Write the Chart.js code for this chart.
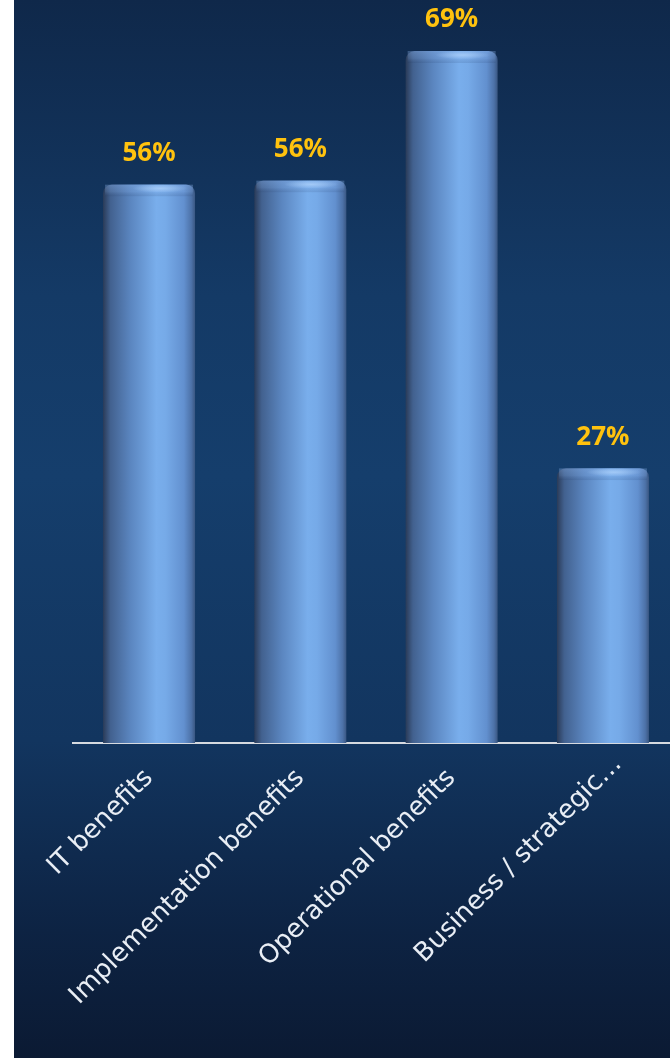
<!DOCTYPE html>
<html>
<head>
<meta charset="utf-8">
<script src="https://cdn.jsdelivr.net/npm/chart.js@4.4.1/dist/chart.umd.min.js"></script>
<style>
  html, body { margin: 0; padding: 0; background: #ffffff; overflow: hidden; }
  #wrap { position: relative; width: 670px; height: 1058px; overflow: hidden; }
  #bg {
    position: absolute; left: 14px; top: 0; width: 656px; height: 1058px;
    background: linear-gradient(to bottom, #0f284a 0%, #143a66 28%, #153e6c 45%, #12355f 70%, #0d2343 88%, #0b1a33 100%);
  }
  #chart { position: absolute; left: 0; top: 0; }
</style>
</head>
<body>
<div id="wrap">
  <div id="bg"></div>
  <canvas id="chart" width="690" height="1058"></canvas>
</div>
<script>
// categories and values (percent)
var categories = ["IT benefits", "Implementation benefits", "Operational benefits", "Business / strategic\u2026"];
var values = [55.7, 56.1, 69.0, 27.4];
var yMax = 70;

var barPct = 0.608;

// cylinder look: horizontal gradient per bar
function barFill(ctx) {
  var chart = ctx.chart;
  var xs = chart.scales.x;
  if (!xs || ctx.dataIndex === undefined) return '#5f8fd0';
  var cx = xs.getPixelForValue(ctx.dataIndex);
  var w = (xs.width / categories.length) * barPct;
  if (!isFinite(cx) || !isFinite(w) || w <= 0) return '#5f8fd0';
  var g = chart.ctx.createLinearGradient(cx - w / 2, 0, cx + w / 2, 0);
  g.addColorStop(0, '#2a3b58');
  g.addColorStop(0.08, '#42618f');
  g.addColorStop(0.3, '#5b86c0');
  g.addColorStop(0.58, '#79aeec');
  g.addColorStop(0.68, '#76aae8');
  g.addColorStop(0.88, '#6290cf');
  g.addColorStop(0.96, '#4d72a8');
  g.addColorStop(1, '#3a5782');
  return g;
}

// the truncated last label sits a little further up its diagonal
var labelNudge = {
  id: 'labelNudge',
  afterLayout: function (chart) {
    var items = chart.scales.x.getLabelItems(chart.chartArea);
    var it = items[3];
    if (it) {
      var t = it.options.translation;
      it.options.translation = [t[0] + 15, t[1] - 14];
    }
  }
};

// top cap highlight + value labels
var capPlugin = {
  id: 'caps',
  afterDatasetsDraw: function (chart) {
    var c = chart.ctx;
    var meta = chart.getDatasetMeta(0);
    meta.data.forEach(function (bar, i) {
      var left = bar.x - bar.width / 2, w = bar.width, top = bar.y;
      c.save();
      // cap band
      var g = c.createLinearGradient(0, top, 0, top + 12);
      g.addColorStop(0, 'rgba(140,180,235,0.35)');
      g.addColorStop(0.6, 'rgba(140,180,235,0.18)');
      g.addColorStop(1, 'rgba(20,40,80,0.12)');
      c.beginPath();
      c.rect(left + 2, top, w - 4, 12);
      c.clip();
      c.fillStyle = g;
      c.fillRect(left, top, w, 12);
      c.restore();
      // highlight ellipse
      c.save();
      var rg = c.createRadialGradient(left + w * 0.62, top + 4, 0, left + w * 0.62, top + 4, w * 0.3);
      rg.addColorStop(0, 'rgba(175,210,250,0.75)');
      rg.addColorStop(1, 'rgba(175,210,250,0)');
      c.translate(0, top + 4);
      c.scale(1, 0.15);
      c.translate(0, -(top + 4));
      c.fillStyle = rg;
      c.fillRect(left, top - 40, w, 80);
      c.restore();
      // value label
      c.save();
      c.font = 'bold 26px "Open Sans", "Noto Sans", sans-serif';
      c.fillStyle = '#ffc20e';
      c.textAlign = 'center';
      c.textBaseline = 'middle';
      c.fillText(Math.round(values[i]) + '%', bar.x, top - 31);
      c.restore();
    });
  }
};

new Chart(document.getElementById('chart').getContext('2d'), {
  type: 'bar',
  data: {
    labels: categories,
    datasets: [{
      data: values,
      backgroundColor: barFill,
      borderWidth: 0,
      borderRadius: 9,
      borderSkipped: 'bottom',
      categoryPercentage: 1,
      barPercentage: barPct
    }]
  },
  options: {
    responsive: false,
    animation: false,
    layout: { padding: { left: 73.4, right: 11.4, top: 41, bottom: 0 } },
    plugins: { legend: { display: false }, tooltip: { enabled: false } },
    scales: {
      x: {
        grid: { display: false },
        border: { display: true, color: '#d6dae0', width: 2 },
        ticks: {
          color: '#e9eef5',
          font: { family: '"DejaVu Sans", Verdana, sans-serif', size: 26 },
          minRotation: 45,
          maxRotation: 45,
          autoSkip: false,
          padding: 12
        },
        afterFit: function (s) { s.height = 315; }
      },
      y: {
        display: false,
        min: 0,
        max: yMax
      }
    }
  },
  plugins: [labelNudge, capPlugin]
});
</script>
</body>
</html>
